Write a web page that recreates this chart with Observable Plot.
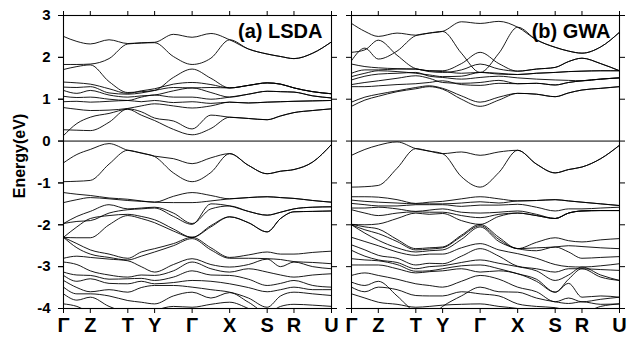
<!DOCTYPE html>
<html><head><meta charset="utf-8">
<script src="https://cdn.jsdelivr.net/npm/d3@7"></script>
<script src="https://cdn.jsdelivr.net/npm/@observablehq/plot@0.6"></script>
<style>body{margin:0;background:#fff} svg{display:block}</style>
</head><body><div id="chart"></div>
<script>
const panels = ["(a) LSDA", "(b) GWA"];
const kSample = [0, 0.5, 1, 1.7, 2.4, 2.9, 3.4, 4.1, 4.8, 5.5, 6.2, 6.9, 7.6, 8.1, 8.6, 9.3, 10];
const kTicks = [0, 1, 2.4, 3.4, 4.8, 6.2, 7.6, 8.6, 10];
const kLabels = ["Γ", "Z", "T", "Y", "Γ", "X", "S", "R", "U"];
const yTicks = [-4, -3, -2, -1, 0, 1, 2, 3];

// LSDA conduction bands (eV) at kSample
const lsdaConduction = [
  [0.13, 0.42, 0.57, 0.66, 0.76, 0.62, 0.49, 0.28, 0.15, 0.30, 0.57, 0.54, 0.51, 0.60, 0.68, 0.73, 0.77],
  [0.27, 0.26, 0.25, 0.45, 0.77, 0.70, 0.55, 0.48, 0.29, 0.62, 0.57, 0.54, 0.51, 0.60, 0.68, 0.73, 0.77],
  [0.80, 0.76, 0.73, 0.74, 0.78, 0.84, 0.89, 0.84, 0.79, 0.84, 0.93, 0.91, 0.93, 0.94, 0.95, 0.96, 0.97],
  [0.94, 0.95, 0.93, 0.95, 0.97, 0.94, 0.97, 0.92, 0.94, 0.90, 0.93, 0.91, 0.93, 0.94, 0.95, 0.96, 0.97],
  [1.07, 1.04, 1.05, 1.00, 0.97, 1.05, 1.10, 1.05, 1.05, 1.00, 1.05, 1.12, 1.19, 1.18, 1.17, 1.08, 1.03],
  [1.21, 1.14, 1.21, 1.10, 1.05, 1.08, 1.10, 1.20, 1.27, 1.16, 1.05, 1.12, 1.19, 1.18, 1.17, 1.08, 1.03],
  [1.29, 1.28, 1.30, 1.15, 1.12, 1.15, 1.21, 1.28, 1.27, 1.28, 1.27, 1.33, 1.39, 1.36, 1.27, 1.18, 1.13],
  [1.41, 1.39, 1.36, 1.25, 1.14, 1.20, 1.25, 1.36, 1.40, 1.35, 1.27, 1.33, 1.39, 1.36, 1.27, 1.18, 1.13],
  [1.71, 1.78, 1.82, 1.42, 1.16, 1.18, 1.21, 1.52, 1.72, 1.50, 1.27, 1.33, 1.39, 1.36, 1.27, 1.18, 1.13],
  [1.83, 1.83, 1.84, 1.97, 2.32, 2.34, 2.35, 2.02, 1.83, 1.98, 2.42, 2.20, 2.08, 2.02, 1.97, 2.10, 2.37],
  [2.50, 2.38, 2.32, 2.42, 2.33, 2.35, 2.36, 2.55, 2.48, 2.57, 2.42, 2.20, 2.08, 2.02, 1.97, 2.10, 2.37]
];
// LSDA valence bands
const lsdaValence = [
  [-0.52, -0.32, -0.20, -0.06, -0.22, -0.28, -0.36, -0.42, -0.54, -0.40, -0.30, -0.58, -0.78, -0.72, -0.68, -0.50, -0.08],
  [-0.97, -0.96, -0.94, -0.55, -0.22, -0.29, -0.37, -0.76, -0.97, -0.75, -0.30, -0.58, -0.78, -0.72, -0.68, -0.50, -0.08],
  [-1.23, -1.27, -1.30, -1.36, -1.39, -1.43, -1.46, -1.32, -1.23, -1.30, -1.38, -1.35, -1.33, -1.35, -1.37, -1.42, -1.46],
  [-1.47, -1.40, -1.35, -1.38, -1.42, -1.44, -1.46, -1.47, -1.47, -1.43, -1.38, -1.35, -1.33, -1.35, -1.37, -1.42, -1.46],
  [-1.97, -1.80, -1.68, -1.52, -1.62, -1.60, -1.58, -1.72, -1.97, -1.62, -1.55, -1.68, -1.77, -1.70, -1.62, -1.58, -1.57],
  [-1.97, -1.92, -1.90, -1.72, -1.64, -1.62, -1.60, -1.80, -1.99, -1.50, -1.55, -1.68, -1.77, -1.70, -1.62, -1.58, -1.57],
  [-2.30, -2.05, -1.85, -1.78, -1.75, -1.80, -1.88, -2.10, -2.30, -2.02, -1.81, -1.95, -2.17, -1.85, -1.69, -1.68, -1.67],
  [-2.30, -2.31, -2.31, -2.00, -1.78, -1.85, -1.95, -2.15, -2.30, -2.05, -1.81, -1.95, -2.17, -1.85, -1.69, -1.68, -1.67],
  [-2.30, -2.45, -2.60, -2.70, -2.80, -2.65, -2.57, -2.45, -2.30, -2.55, -2.78, -2.72, -2.65, -2.70, -2.70, -2.66, -2.63],
  [-2.30, -2.55, -2.70, -2.78, -2.84, -2.75, -2.65, -2.50, -2.33, -2.60, -2.80, -2.80, -2.81, -2.83, -2.88, -2.90, -2.93],
  [-2.80, -2.75, -2.78, -2.82, -2.86, -3.00, -3.13, -2.95, -2.81, -2.95, -3.01, -2.95, -2.82, -3.00, -2.89, -3.00, -3.05],
  [-2.89, -2.95, -3.10, -3.20, -3.25, -3.20, -3.21, -3.10, -2.89, -3.05, -3.13, -3.05, -3.13, -3.20, -3.25, -3.20, -3.17],
  [-3.13, -3.20, -3.21, -3.30, -3.29, -3.28, -3.33, -3.25, -3.10, -3.20, -3.21, -3.30, -3.45, -3.40, -3.33, -3.45, -3.49],
  [-3.21, -3.35, -3.29, -3.40, -3.41, -3.35, -3.41, -3.38, -3.33, -3.35, -3.41, -3.50, -3.60, -3.55, -3.49, -3.55, -3.55],
  [-3.33, -3.50, -3.60, -3.55, -3.61, -3.50, -3.45, -3.45, -3.49, -3.55, -3.61, -3.75, -3.97, -3.70, -3.61, -3.65, -3.69],
  [-3.49, -3.65, -3.65, -3.70, -3.81, -3.85, -3.89, -3.70, -3.61, -3.75, -3.62, -3.85, -4.10, -3.95, -3.90, -3.92, -3.95],
  [-3.65, -3.80, -3.73, -3.95, -4.10, -4.15, -4.05, -3.95, -3.97, -3.90, -3.85, -4.00, -4.20, -4.10, -4.00, -4.05, -4.10],
  [-3.89, -3.95, -4.10, -4.20, -4.25, -4.20, -4.15, -4.10, -4.05, -4.10, -4.05, -4.15, -4.30, -4.20, -4.10, -4.15, -4.20]
];
// GWA conduction bands
const gwaConduction = [
  [0.83, 0.98, 1.07, 1.18, 1.25, 1.30, 1.24, 1.00, 0.83, 0.98, 1.14, 1.12, 1.06, 1.15, 1.22, 1.26, 1.30],
  [0.93, 1.05, 1.12, 1.20, 1.28, 1.32, 1.26, 1.08, 0.93, 1.05, 1.14, 1.12, 1.06, 1.15, 1.22, 1.26, 1.30],
  [1.30, 1.30, 1.32, 1.35, 1.37, 1.40, 1.44, 1.35, 1.33, 1.38, 1.37, 1.38, 1.34, 1.40, 1.44, 1.48, 1.51],
  [1.35, 1.40, 1.44, 1.50, 1.56, 1.50, 1.40, 1.38, 1.40, 1.45, 1.37, 1.38, 1.34, 1.40, 1.44, 1.48, 1.51],
  [1.46, 1.55, 1.60, 1.62, 1.64, 1.55, 1.52, 1.48, 1.52, 1.55, 1.51, 1.48, 1.46, 1.45, 1.44, 1.48, 1.51],
  [1.54, 1.62, 1.68, 1.66, 1.62, 1.58, 1.54, 1.55, 1.64, 1.60, 1.59, 1.62, 1.64, 1.66, 1.67, 1.68, 1.68],
  [1.62, 1.70, 1.70, 1.72, 1.72, 1.66, 1.64, 1.70, 1.84, 1.72, 1.67, 1.72, 1.76, 1.90, 1.98, 1.85, 1.68],
  [1.84, 1.78, 1.75, 1.73, 1.72, 1.68, 1.68, 1.85, 2.12, 1.85, 1.67, 1.72, 1.76, 1.90, 1.98, 1.85, 1.68],
  [1.92, 2.22, 1.96, 2.15, 2.52, 2.58, 2.62, 2.10, 1.64, 2.10, 2.72, 2.42, 2.24, 2.15, 2.10, 2.25, 2.60],
  [2.12, 2.18, 2.41, 2.05, 1.73, 1.68, 1.66, 1.62, 1.64, 1.62, 1.59, 1.62, 1.64, 1.66, 1.67, 1.68, 1.68],
  [2.81, 2.62, 2.50, 2.58, 2.53, 2.58, 2.62, 2.85, 2.81, 2.86, 2.72, 2.42, 2.24, 2.15, 2.10, 2.25, 2.60]
];
// GWA valence bands
const gwaValence = [
  [-0.34, -0.20, -0.10, -0.02, -0.18, -0.24, -0.30, -0.26, -0.34, -0.26, -0.22, -0.55, -0.76, -0.68, -0.62, -0.42, -0.10],
  [-1.10, -1.09, -1.06, -0.65, -0.18, -0.24, -0.30, -0.85, -1.10, -0.75, -0.22, -0.55, -0.76, -0.68, -0.62, -0.42, -0.10],
  [-1.33, -1.33, -1.34, -1.40, -1.49, -1.46, -1.44, -1.38, -1.33, -1.38, -1.43, -1.42, -1.40, -1.43, -1.46, -1.50, -1.54],
  [-1.41, -1.44, -1.46, -1.48, -1.50, -1.50, -1.50, -1.48, -1.45, -1.48, -1.43, -1.42, -1.40, -1.43, -1.46, -1.50, -1.54],
  [-1.49, -1.52, -1.55, -1.55, -1.52, -1.52, -1.52, -1.56, -1.53, -1.53, -1.51, -1.58, -1.67, -1.62, -1.62, -1.60, -1.58],
  [-1.60, -1.60, -1.58, -1.62, -1.68, -1.65, -1.62, -1.70, -1.72, -1.70, -1.67, -1.75, -1.85, -1.72, -1.67, -1.66, -1.66],
  [-1.64, -1.72, -1.78, -1.72, -1.69, -1.70, -1.70, -1.78, -1.83, -1.75, -1.72, -1.78, -1.85, -1.72, -1.67, -1.66, -1.66],
  [-1.99, -2.00, -1.98, -1.85, -1.72, -1.75, -1.73, -1.90, -1.99, -1.80, -1.72, -1.78, -1.85, -1.72, -1.67, -1.66, -1.66],
  [-1.99, -2.05, -2.10, -2.35, -2.57, -2.55, -2.53, -2.25, -1.99, -2.30, -2.57, -2.42, -2.31, -2.38, -2.41, -2.36, -2.33],
  [-2.00, -2.12, -2.21, -2.40, -2.60, -2.58, -2.55, -2.28, -2.02, -2.35, -2.57, -2.55, -2.53, -2.50, -2.52, -2.55, -2.57],
  [-2.00, -2.20, -2.37, -2.55, -2.65, -2.62, -2.60, -2.35, -2.05, -2.40, -2.57, -2.62, -2.53, -2.65, -2.80, -2.78, -2.76],
  [-2.30, -2.40, -2.50, -2.65, -2.73, -2.70, -2.70, -2.55, -2.45, -2.60, -2.69, -2.80, -2.95, -3.00, -3.01, -2.98, -2.93],
  [-2.48, -2.60, -2.73, -2.80, -2.96, -2.92, -2.93, -2.75, -2.57, -2.75, -2.99, -3.05, -3.13, -3.05, -3.05, -3.07, -3.09],
  [-2.61, -2.75, -2.84, -2.90, -3.05, -3.00, -2.98, -2.90, -2.84, -2.92, -3.00, -3.10, -3.33, -3.20, -3.01, -3.20, -3.33],
  [-2.81, -2.84, -2.86, -2.95, -3.11, -3.10, -3.05, -2.98, -2.96, -3.05, -3.17, -3.30, -3.61, -3.30, -3.05, -3.25, -3.33],
  [-2.96, -2.96, -2.96, -3.05, -3.15, -3.12, -3.10, -3.05, -3.13, -3.10, -3.17, -3.35, -3.61, -3.40, -3.73, -3.70, -3.73],
  [-3.21, -3.15, -3.21, -3.30, -3.41, -3.45, -3.49, -3.35, -3.21, -3.30, -3.49, -3.60, -3.84, -3.75, -3.84, -3.78, -3.73],
  [-3.37, -3.45, -3.35, -3.70, -4.10, -4.20, -3.95, -3.70, -3.49, -3.60, -3.61, -3.75, -3.84, -3.88, -3.84, -3.90, -3.89],
  [-3.49, -3.60, -3.49, -3.55, -3.69, -3.70, -3.70, -3.60, -3.65, -3.70, -3.89, -3.95, -3.98, -4.05, -4.10, -3.95, -3.89],
  [-3.65, -3.75, -3.85, -3.90, -3.97, -3.95, -3.92, -3.90, -3.89, -3.95, -4.00, -4.10, -4.20, -4.15, -4.10, -4.05, -4.00]
];

const bandRows = [];
function addBands(panel, group, bands) {
  bands.forEach((b, i) => b.forEach((e, j) => bandRows.push({panel, band: panel + group + i, k: kSample[j], e})));
}
addBands(panels[0], "c", lsdaConduction);
addBands(panels[0], "v", lsdaValence);
addBands(panels[1], "c", gwaConduction);
addBands(panels[1], "v", gwaValence);

const panelRows = panels.map(p => ({panel: p}));

const chart = Plot.plot({
  width: 628, height: 339,
  marginLeft: 62, marginRight: 8, marginTop: 15, marginBottom: 31,
  style: {fontFamily: "'Liberation Sans', Arial, sans-serif", fontWeight: "bold", background: "white", color: "black", overflow: "visible"},
  fx: {domain: panels, axis: null, paddingInner: 0.0692, paddingOuter: 0},
  x: {domain: [0, 10]},
  y: {domain: [-4, 3]},
  marks: [
    Plot.ruleY([0], {stroke: "black", strokeWidth: 1}),
    Plot.line(bandRows, {fx: "panel", x: "k", y: "e", z: "band", curve: "monotone-x", stroke: "black", strokeWidth: 0.9, clip: true}),
    Plot.frame({stroke: "black", strokeWidth: 1.1}),
    Plot.axisY({anchor: "left", ticks: yTicks, tickSize: 5, tickPadding: 8, fontSize: 15, label: null, tickFormat: d => String(d)}),
    Plot.axisY({anchor: "left", facetAnchor: null, ticks: yTicks, tickSize: 5, tickFormat: () => "", label: null}),
    Plot.axisY({anchor: "right", facetAnchor: null, ticks: yTicks, tickSize: 5, tickFormat: () => "", label: null}),
    Plot.axisX({anchor: "bottom", facetAnchor: null, ticks: kTicks, tickSize: 5, tickPadding: 4, fontSize: 20, label: null, tickFormat: (d, i) => kLabels[i]}),
    Plot.axisX({anchor: "top", facetAnchor: null, ticks: kTicks, tickSize: 5, tickFormat: () => "", label: null}),
    Plot.text(panelRows, {fx: "panel", text: "panel", frameAnchor: "top-right", textAnchor: "end", lineAnchor: "top", dx: -9, dy: 8, fontSize: 20}),
    Plot.text([panelRows[0]], {fx: "panel", text: () => "Energy(eV)", frameAnchor: "left", textAnchor: "middle", rotate: -90, dx: -44, dy: -6, fontSize: 16})
  ]
});
document.getElementById("chart").appendChild(chart);
</script>
</body></html>
